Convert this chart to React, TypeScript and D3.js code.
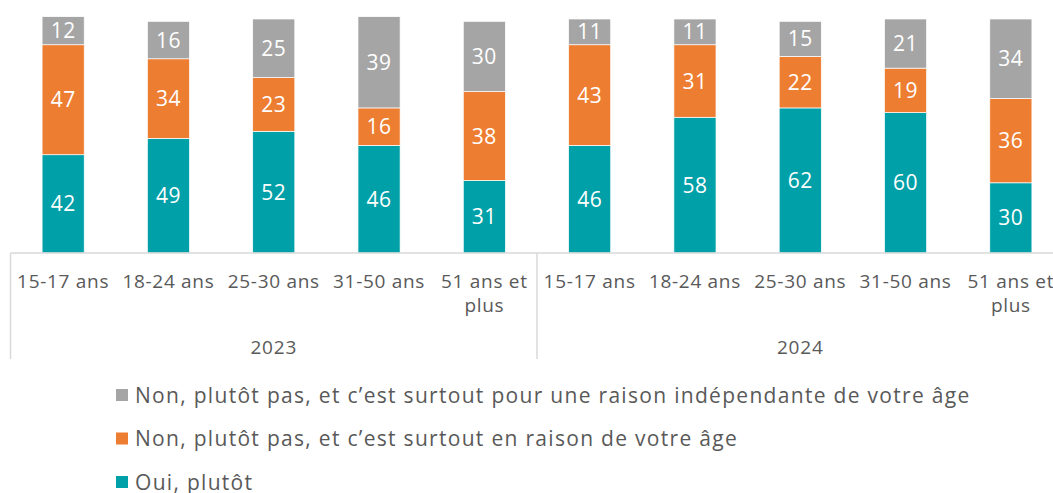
import * as d3 from "d3";

const years = ["2023", "2024"];
const ageGroups = ["15-17 ans", "18-24 ans", "25-30 ans", "31-50 ans", "51 ans et plus"];
const seriesNames = [
  "Oui, plutôt",
  "Non, plutôt pas, et c’est surtout en raison de votre âge",
  "Non, plutôt pas, et c’est surtout pour une raison indépendante de votre âge",
];
const seriesColors = ["#00a0a8", "#ed7d31", "#a5a5a5"];
// per bar: 2023 ages then 2024 ages
const oui = [42, 49, 52, 46, 31, 46, 58, 62, 60, 30];
const nonAge = [47, 34, 23, 16, 38, 43, 31, 22, 19, 36];
const nonAutre = [12, 16, 25, 39, 30, 11, 11, 15, 21, 34];

const W = 1053;
const H = 493;
const FONT = "'Open Sans', sans-serif";
const TEXT = "#595959";

export default function App() {
  const bars = years.flatMap((yr) => ageGroups.map((a) => ({ key: `${yr}|${a}`, year: yr, age: a })));
  const rows = bars.map((b, i) => ({ key: b.key, s0: oui[i], s1: nonAge[i], s2: nonAutre[i] }));
  const stack = d3.stack<any>().keys(["s0", "s1", "s2"])(rows);

  const x = d3
    .scaleBand()
    .domain(bars.map((b) => b.key))
    .range([10.5, 1063.5])
    .paddingInner(0.6)
    .paddingOuter(0.3);
  const y = d3.scaleLinear().domain([0, 100]).range([253, 19]);
  const step = x.step();
  const x0 = 10.5;
  const baseY = y(0);

  return (
    <svg width={W} height={H} style={{ position: "absolute", left: 0, top: 0, fontFamily: FONT }}>
      <rect width={W} height={H} fill="#fff" />
      {stack.map((layer, si) => (
        <g key={si}>
          {layer.map((d, i) => {
            const key = bars[i].key;
            const bx = x(key)!;
            const top = y(d[1]);
            const bot = y(d[0]);
            const v = d[1] - d[0];
            return (
              <g key={key}>
                <rect x={bx} y={top} width={x.bandwidth()} height={bot - top} fill={seriesColors[si]} stroke="#fff" strokeWidth={0.7} />
                <text
                  x={bx + x.bandwidth() / 2}
                  y={(top + bot) / 2}
                  dy="0.36em"
                  textAnchor="middle"
                  fill="#fff"
                  fontSize={21}
                  letterSpacing={0.5}
                >
                  {v}
                </text>
              </g>
            );
          })}
        </g>
      ))}
      {/* axis */}
      <line x1={x0} x2={x0 + step * 10} y1={baseY} y2={baseY} stroke="#d9d9d9" strokeWidth={1.5} />
      {[0, 5, 10].map((k) => (
        <line key={k} x1={x0 + k * step} x2={x0 + k * step} y1={baseY} y2={359} stroke="#d9d9d9" strokeWidth={1.5} />
      ))}
      {bars.map((b) => {
        const cx = x(b.key)! + x.bandwidth() / 2;
        const lines = b.age === "51 ans et plus" ? ["51 ans et", "plus"] : [b.age];
        return (
          <text key={b.key} x={cx} y={288} textAnchor="middle" fill={TEXT} fontSize={19} letterSpacing={0.7}>
            {lines.map((l, i) => (
              <tspan key={i} x={cx} dy={i === 0 ? 0 : 24}>
                {l}
              </tspan>
            ))}
          </text>
        );
      })}
      {years.map((yr, i) => (
        <text key={yr} x={x0 + step * (2.5 + i * 5)} y={354} textAnchor="middle" fill={TEXT} fontSize={19} letterSpacing={0.8}>
          {yr}
        </text>
      ))}
      {/* legend */}
      {[2, 1, 0].map((si, r) => (
        <g key={si} transform={`translate(116, ${389 + r * 43.5})`}>
          <rect width={12} height={12} fill={seriesColors[si]} />
          <text x={19} y={6} dy="0.36em" fill={TEXT} fontSize={21} letterSpacing={1.3}>
            {seriesNames[si]}
          </text>
        </g>
      ))}
    </svg>
  );
}
